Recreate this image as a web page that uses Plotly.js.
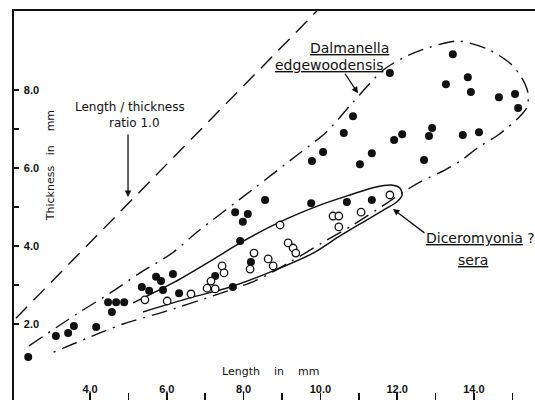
<!DOCTYPE html>
<html><head><meta charset="utf-8">
<script src="https://cdn.plot.ly/plotly-3.0.1.min.js"></script>
<style>html,body{margin:0;padding:0;background:#fff;overflow:hidden}</style>
</head><body><div id="chart" style="width:535px;height:400px"></div>
<script>
// Dalmanella edgewoodensis (filled dots): length, thickness in mm
const dalmanellaLength = [2.39,3.11,3.43,3.58,4.16,4.47,4.68,4.89,4.57,5.35,5.54,5.72,5.85,5.90,6.16,6.32,7.26,7.72,7.91,8.19,7.78,8.11,7.98,8.56,9.76,10.69,11.34,9.78,10.07,10.61,10.85,11.03,11.34,11.81,11.92,12.13,12.70,12.83,12.91,13.27,13.45,13.84,13.92,13.71,14.13,14.65,15.07,15.15];
const dalmanellaThick  = [1.15,1.69,1.77,1.95,1.92,2.56,2.56,2.56,2.31,2.95,2.85,3.21,3.10,2.87,3.28,2.79,3.23,2.95,4.13,3.59,4.87,4.82,4.62,5.18,5.10,5.13,5.18,6.18,6.41,6.90,7.33,6.10,6.38,8.44,6.72,6.87,6.21,6.82,7.03,8.15,8.92,8.33,7.95,6.85,6.92,7.82,7.90,7.54];
// Diceromyonia ? sera (open circles)
const diceroLength = [5.43,6.01,6.63,7.05,7.26,7.15,7.44,7.49,8.27,8.17,8.64,8.77,8.95,9.16,9.29,9.36,10.33,10.48,10.48,11.06,11.81];
const diceroThick  = [2.62,2.59,2.77,2.92,2.90,3.10,3.49,3.31,3.82,3.41,3.67,3.49,4.54,4.08,3.95,3.82,4.77,4.77,4.49,4.87,5.31];
// Envelopes drawn on the figure
const dalmEnvLength = [2.41,3.69,4.52,5.30,6.14,6.79,8.22,9.39,10.15,10.85,11.63,12.20,12.85,13.58,14.36,14.94,15.25,15.41,15.38,15.15,14.63,14.08,13.69,13.24,12.59,12.15,11.73,10.85,10.04,9.21,8.35,7.26,5.82,4.86,3.01];
const dalmEnvThick  = [1.44,2.28,2.79,3.31,3.82,4.36,5.44,6.33,6.92,7.69,8.51,8.85,9.10,9.26,9.05,8.69,8.31,7.92,7.56,7.28,6.85,6.51,6.21,5.95,5.64,5.38,5.10,4.54,4.08,3.59,3.13,2.74,2.28,2.00,1.26];
const dicEnvLength = [5.38,6.60,7.65,8.69,9.81,10.51,11.16,11.73,11.99,12.13,12.07,11.89,11.42,10.77,9.99,8.95,7.91,7.18,6.21,5.12];
const dicEnvThick  = [2.31,2.67,2.95,3.33,3.82,4.26,4.64,4.97,5.13,5.31,5.49,5.56,5.51,5.31,5.05,4.62,4.08,3.64,3.08,2.54];
// Length / thickness ratio 1.0 line
const ratioLength = [2.07, 9.91];
const ratioThick  = [2.15, 10.03];
// Tick labels
const xTickVals = [4,5,6,7,8,9,10,11,12,13,14,15];
const xTickText = ['4.0','','6.0','','8.0','','10.0','','12.0','','14.0',''];
const yTickVals = [2,3,4,5,6,7,8];
const yTickText = ['2.0','','4.0','','6.0','','8.0'];

const lab = {family:'DejaVu Sans', size:12, color:'#111'};
const traces = [
  {x: ratioLength, y: ratioThick, mode:'lines', line:{color:'#111', width:1.4, dash:'16px,9px'}, hoverinfo:'skip'},
  {x: dalmEnvLength, y: dalmEnvThick, mode:'lines', line:{color:'#111', width:1.4, dash:'16px,7px,2px,7px', shape:'spline', smoothing:0.8}, hoverinfo:'skip'},
  {x: dicEnvLength, y: dicEnvThick, mode:'lines', line:{color:'#111', width:1.5, shape:'spline', smoothing:0.8}, hoverinfo:'skip'},
  {x: dalmanellaLength, y: dalmanellaThick, mode:'markers', marker:{color:'#111', size:8, line:{width:0}}},
  {x: diceroLength, y: diceroThick, mode:'markers', marker:{color:'#fff', size:7.5, line:{color:'#111', width:1.3}}}
];
const layout = {
  width:535, height:400, showlegend:false,
  margin:{l:14, r:0, t:11, b:0},
  paper_bgcolor:'#fff', plot_bgcolor:'#fff',
  xaxis:{range:[2.02,15.59], showgrid:false, zeroline:false, showline:true, linewidth:2, linecolor:'#111', mirror:true,
         tickmode:'array', tickvals:xTickVals, ticktext:xTickText, ticks:'inside', ticklen:7, tickwidth:1.5, tickcolor:'#111',
         ticklabelposition:'inside', ticklabelstandoff:-3, tickfont:{family:'Liberation Sans', size:11, weight:'bold', color:'#111'}},
  yaxis:{range:[0.05,10.03], showgrid:false, zeroline:false, showline:true, linewidth:2, linecolor:'#111',
         tickmode:'array', tickvals:yTickVals, ticktext:yTickText, ticks:'inside', ticklen:5, tickwidth:1.5, tickcolor:'#111',
         ticklabelposition:'inside', ticklabelstandoff:4, tickfont:{family:'Liberation Sans', size:11, weight:'bold', color:'#111'}},
  annotations:[
    {x:5.04, y:7.56, text:'Length / thickness', showarrow:false, font:lab},
    {x:5.15, y:7.15, text:'ratio 1.0', showarrow:false, font:lab},
    {x:4.99, y:5.26, text:'', showarrow:true, ax:0, ay:-64, arrowhead:2, arrowsize:1, arrowwidth:1.3, arrowcolor:'#111', standoff:0},
    {x:10.77, y:9.08, text:'<u>Dalmanella</u>', showarrow:false, font:{family:'DejaVu Sans', size:14, color:'#111'}},
    {x:10.22, y:8.64, text:'<u>edgewoodensis</u>', showarrow:false, font:{family:'DejaVu Sans', size:14, color:'#111'}},
    {x:10.98, y:7.92, text:'', showarrow:true, ax:-14, ay:-21, arrowhead:2, arrowsize:1, arrowwidth:1.3, arrowcolor:'#111', standoff:0},
    {x:14.18, y:4.21, text:'<u>Diceromyonia</u> ?', showarrow:false, font:{family:'DejaVu Sans', size:14, color:'#111'}},
    {x:13.97, y:3.64, text:'<u>sera</u>', showarrow:false, font:{family:'DejaVu Sans', size:14, color:'#111'}},
    {x:11.89, y:4.95, text:'', showarrow:true, ax:33, ay:25, arrowhead:2, arrowsize:1, arrowwidth:1.3, arrowcolor:'#111', standoff:0},
    {x:2.96, y:6.05, text:'Thickness&nbsp;&nbsp; in &nbsp;&nbsp;&nbsp;mm', textangle:-90, showarrow:false, font:{family:'DejaVu Sans', size:11, color:'#111'}},
    {x:8.71, y:0.77, text:'Length&nbsp;&nbsp;&nbsp; in &nbsp;&nbsp;&nbsp;mm', showarrow:false, font:{family:'DejaVu Sans', size:11, color:'#111'}}
  ]
};
Plotly.newPlot('chart', traces, layout, {displayModeBar:false, staticPlot:true});
</script>
</body></html>
